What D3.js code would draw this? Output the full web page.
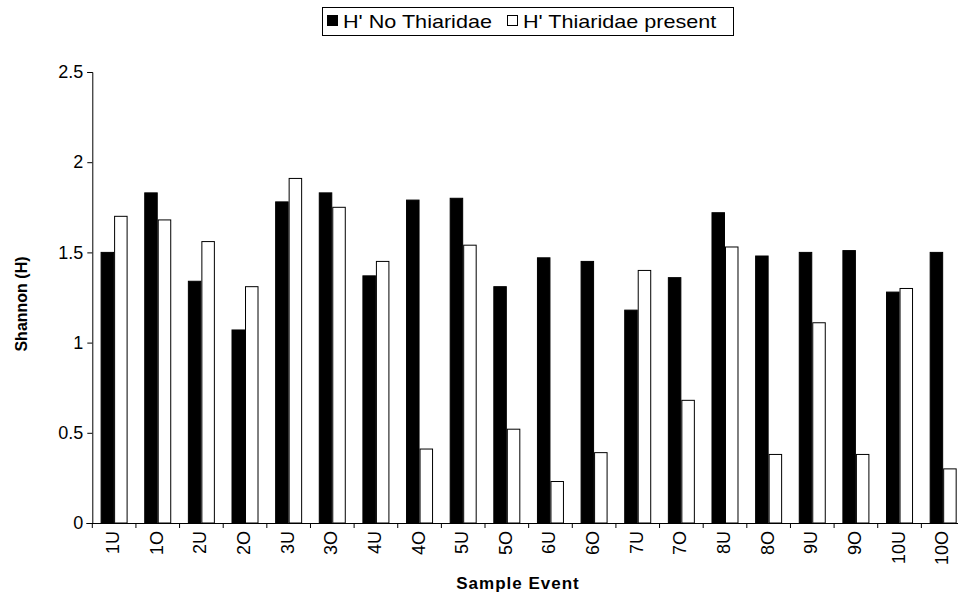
<!DOCTYPE html>
<html><head><meta charset="utf-8">
<script src="https://cdn.jsdelivr.net/npm/d3@7"></script>
<style>
html,body{margin:0;padding:0;background:#fff;}
svg{display:block;font-family:"Liberation Sans",Arial,sans-serif;}
</style></head>
<body>
<svg id="chart" width="958" height="596"></svg>
<script>
const categories = ["1U","1O","2U","2O","3U","3O","4U","4O","5U","5O","6U","6O","7U","7O","8U","8O","9U","9O","10U","10O"];
const noThiaridae = [1.50,1.83,1.34,1.07,1.78,1.83,1.37,1.79,1.80,1.31,1.47,1.45,1.18,1.36,1.72,1.48,1.50,1.51,1.28,1.50];
const thiaridaePresent = [1.70,1.68,1.56,1.31,1.91,1.75,1.45,0.41,1.54,0.52,0.23,0.39,1.40,0.68,1.53,0.38,1.11,0.38,1.30,0.30];
const seriesNames = ["H' No Thiaridae","H' Thiaridae present"];
const yTicks = [0,0.5,1,1.5,2,2.5];
const yTickLabels = ["0","0.5","1","1.5","2","2.5"];

(function(){
const svg = d3.select("#chart");
const mLeft = 92.3, mRight = 965, mTop = 72, mBottom = 523;

const x0 = d3.scaleBand().domain(categories).range([mLeft, mRight]).padding(0);
const x1 = d3.scaleBand().domain([0,1]).range([8.3, 35.3]).padding(0);
const y = d3.scaleLinear().domain([0,2.5]).range([mBottom, mTop]);

const data = categories.map((c,i)=>({cat:c, vals:[noThiaridae[i], thiaridaePresent[i]]}));

// bars
const g = svg.append("g");
data.forEach(d=>{
  d.vals.forEach((v,j)=>{
    g.append("rect")
      .attr("x", x0(d.cat) + x1(j) + 0.5)
      .attr("y", y(v))
      .attr("width", x1.bandwidth() - 1)
      .attr("height", y(0) - y(v))
      .attr("fill", j===0 ? "#000" : "#fff")
      .attr("stroke", "#000")
      .attr("stroke-width", 1);
  });
});

// y axis
const yAxis = d3.axisLeft(y).tickValues(yTicks).tickFormat((d,i)=>yTickLabels[i]).tickSizeOuter(0).tickSize(5).tickPadding(4);
const ya = svg.append("g").attr("transform",`translate(${mLeft},0)`).call(yAxis);
ya.selectAll("text").attr("font-size",18).attr("fill","#000").attr("font-family","Liberation Sans, Arial, sans-serif");
ya.selectAll("line,path").attr("stroke","#000");

// x axis
const xAxis = d3.axisBottom(x0).tickSize(0).tickFormat("");
const xa = svg.append("g").attr("transform",`translate(0,${mBottom})`).call(xAxis);
xa.select("path").attr("stroke","#000").attr("d",`M${mLeft-6},0.5H${mRight}`);
xa.selectAll(".bt").data(categories).enter().append("line")
  .attr("x1", d=>x0(d)).attr("x2", d=>x0(d))
  .attr("y1", 0).attr("y2", 5).attr("stroke","#000");
svg.append("g").selectAll("text").data(categories).enter().append("text")
  .attr("transform", d=>`translate(${x0(d)+x0.bandwidth()/2+5},${mBottom+8}) rotate(-90)`)
  .attr("text-anchor","end")
  .attr("font-size",18)
  .attr("fill","#000")
  .text(d=>d);

// axis titles
svg.append("text")
  .attr("transform","translate(27,304) rotate(-90)")
  .attr("text-anchor","middle")
  .attr("font-size",16).attr("font-weight","bold")
  .text("Shannon (H)");
svg.append("text")
  .attr("x",518).attr("y",589)
  .attr("text-anchor","middle")
  .attr("font-size",17).attr("font-weight","bold").attr("letter-spacing",1)
  .text("Sample Event");

// legend
const lg = svg.append("g");
lg.append("rect").attr("x",322.5).attr("y",7.5).attr("width",411).attr("height",28).attr("fill","#fff").attr("stroke","#000");
lg.append("rect").attr("x",327.5).attr("y",15.5).attr("width",10).attr("height",10).attr("fill","#000").attr("stroke","#000");
lg.append("text").attr("transform","translate(343,28) scale(1.2,1)").attr("font-size",18).text(seriesNames[0]);
lg.append("rect").attr("x",507.5).attr("y",15.5).attr("width",10).attr("height",10).attr("fill","#fff").attr("stroke","#000");
lg.append("text").attr("transform","translate(523,28) scale(1.2,1)").attr("font-size",18).text(seriesNames[1]);
})();
</script>
</body></html>
